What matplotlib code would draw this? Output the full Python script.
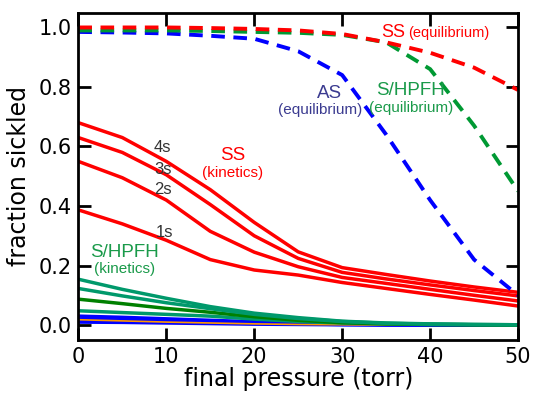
import matplotlib
matplotlib.use('Agg')
import matplotlib.pyplot as plt

# final pressure (torr)
pressure = [0, 5, 10, 15, 20, 25, 30, 35, 40, 45, 50]

# equilibrium curves
ss_eq = [1.0, 1.0, 1.0, 0.998, 0.995, 0.99, 0.978, 0.95, 0.915, 0.865, 0.79]
shpfh_eq = [0.99, 0.99, 0.99, 0.988, 0.985, 0.982, 0.975, 0.95, 0.86, 0.67, 0.45]
as_eq = [0.985, 0.983, 0.98, 0.972, 0.962, 0.92, 0.84, 0.64, 0.42, 0.22, 0.10]

# SS kinetics (1s..4s)
ss_4s = [0.68, 0.63, 0.55, 0.455, 0.345, 0.246, 0.193, 0.17, 0.148, 0.128, 0.11]
ss_3s = [0.63, 0.58, 0.505, 0.405, 0.30, 0.224, 0.177, 0.155, 0.135, 0.116, 0.098]
ss_2s = [0.55, 0.495, 0.42, 0.315, 0.245, 0.196, 0.16, 0.14, 0.12, 0.10, 0.081]
ss_1s = [0.387, 0.34, 0.285, 0.22, 0.185, 0.168, 0.143, 0.123, 0.103, 0.084, 0.064]

# S/HPFH kinetics
hp_1 = [0.154, 0.12, 0.09, 0.062, 0.04, 0.025, 0.013, 0.007, 0.004, 0.002, 0.001]
hp_2 = [0.123, 0.098, 0.075, 0.055, 0.036, 0.022, 0.012, 0.006, 0.003, 0.002, 0.001]
hp_3 = [0.087, 0.072, 0.056, 0.043, 0.028, 0.016, 0.008, 0.004, 0.002, 0.001, 0.0]
hp_4 = [0.048, 0.042, 0.036, 0.03, 0.02, 0.012, 0.007, 0.004, 0.002, 0.001, 0.0]

# AS kinetics
as_1 = [0.03, 0.026, 0.021, 0.016, 0.011, 0.007, 0.004, 0.002, 0.001, 0.0, 0.0]
as_2 = [0.02, 0.017, 0.014, 0.01, 0.007, 0.004, 0.002, 0.001, 0.0, 0.0, 0.0]
as_3 = [0.01, 0.009, 0.007, 0.005, 0.003, 0.002, 0.001, 0.0, 0.0, 0.0, 0.0]
as_4 = [0.018, 0.014, 0.01, 0.007, 0.004, 0.002, 0.001, 0.0, 0.0, 0.0, 0.0]

RED = '#ff0000'
BLUE = '#0000ff'
GREEN_EQ = '#009933'
TEAL = '#00996b'
DKGREEN = '#008000'
TXT_GREEN = '#1a9a4a'
TXT_BLUE = '#3b3b90'

fig = plt.figure(figsize=(5.33, 3.93), dpi=100)
ax = fig.add_axes([0.147, 0.135, 0.825, 0.833])

# AS kinetics (bottom)
for y in [as_1, as_2, as_3]:
    ax.plot(pressure, y, color=BLUE, lw=2.5)
ax.plot(pressure, as_4, color='#ff9900', lw=1.2)

# S/HPFH kinetics
ax.plot(pressure, hp_4, color=TEAL, lw=2.5)
ax.plot(pressure, hp_3, color=DKGREEN, lw=2.5)
ax.plot(pressure, hp_2, color=TEAL, lw=2.5)
ax.plot(pressure, hp_1, color=TEAL, lw=2.5)

# SS kinetics
for y in [ss_1s, ss_2s, ss_3s, ss_4s]:
    ax.plot(pressure, y, color=RED, lw=2.5)

# equilibrium
dash = (0, (3.5, 2.2))
ax.plot(pressure, as_eq, color=BLUE, lw=2.8, ls=dash)
ax.plot(pressure, shpfh_eq, color=GREEN_EQ, lw=2.8, ls=dash)
ax.plot(pressure, ss_eq, color=RED, lw=2.8, ls=dash)

# labels
af = 'Liberation Sans'
ax.text(17.5, 0.57, 'SS', color=RED, fontsize=13.5, ha='center', va='center', family=af)
ax.text(17.5, 0.51, '(kinetics)', color=RED, fontsize=11, ha='center', va='center', family=af)
for lab, xx, yy in [('4s', 9.6, 0.597), ('3s', 9.6, 0.523), ('2s', 9.6, 0.456), ('1s', 9.8, 0.312)]:
    ax.text(xx, yy, lab, color='#333333', fontsize=12, ha='center', va='center', family=af)
ax.text(5.3, 0.245, 'S/HPFH', color=TXT_GREEN, fontsize=13.5, ha='center', va='center', family=af)
ax.text(5.3, 0.188, '(kinetics)', color=TXT_GREEN, fontsize=11, ha='center', va='center', family=af)
ax.text(28.6, 0.778, 'AS', color=TXT_BLUE, fontsize=13.5, ha='center', va='center', family=af)
ax.text(27.5, 0.724, '(equilibrium)', color=TXT_BLUE, fontsize=11, ha='center', va='center', family=af)
ax.text(37.8, 0.788, 'S/HPFH', color=TXT_GREEN, fontsize=13.5, ha='center', va='center', family=af)
ax.text(37.8, 0.731, '(equilibrium)', color=TXT_GREEN, fontsize=11, ha='center', va='center', family=af)
ax.text(37.2, 0.982, 'SS', color=RED, fontsize=13, ha='right', va='center', family=af)
ax.text(37.5, 0.982, '(equilibrium)', color=RED, fontsize=10.5, ha='left', va='center', family=af)

ax.set_xlim(0, 50)
ax.set_ylim(-0.05, 1.05)
ax.set_xticks([0, 10, 20, 30, 40, 50])
ax.set_yticks([0.0, 0.2, 0.4, 0.6, 0.8, 1.0])
ax.set_yticklabels(['0.0', '0.2', '0.4', '0.6', '0.8', '1.0'])
ax.tick_params(direction='in', length=9, width=2, labelsize=15, top=True, right=True, pad=5)
for s in ax.spines.values():
    s.set_linewidth(2)
ax.set_xlabel('final pressure (torr)', fontsize=17, labelpad=0)
ax.set_ylabel('fraction sickled', fontsize=17, labelpad=5)

fig.savefig('out.png', dpi=100)
